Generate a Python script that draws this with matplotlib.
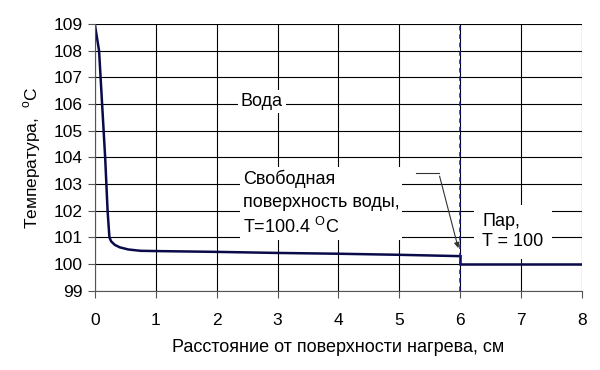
import numpy as np
import matplotlib.pyplot as plt

plt.rcParams['font.family'] = ['Liberation Sans', 'DejaVu Sans']

# water temperature profile (distance in cm, temperature in C)
x_water = [0, 0.07, 0.12, 0.17, 0.21, 0.24, 0.27, 0.33, 0.41, 0.55, 0.75, 1.0, 2.0, 3.0, 4.0, 5.0, 6.0]
t_water = [109, 108, 106, 104, 102, 101, 100.85, 100.72, 100.63, 100.55, 100.5, 100.49, 100.46, 100.42, 100.39, 100.35, 100.3]
# steam
x_steam = [6.0, 6.0, 8.0]
t_steam = [100.3, 100.0, 100.0]
surface_x = 6.0

xticks = list(range(0, 9))
yticks = list(range(99, 110))

fig = plt.figure(figsize=(6, 3.7), dpi=100)
ax = fig.add_axes([0.158, 0.214, 0.812, 0.721])

ax.plot(x_water, t_water, color='#0a0a4a', lw=1.8)
ax.plot(x_steam, t_steam, color='#0a0a4a', lw=1.8)
ax.axvline(surface_x, color='#1a1a9a', lw=1.1, ls=(0, (3, 2.5)), zorder=3)

ax.set_xlim(0, 8)
ax.set_ylim(99, 109)
ax.set_xticks(xticks)
ax.set_yticks(yticks)
ax.grid(True, color='black', lw=0.8)
ax.set_axisbelow(True)
for s in ['top', 'right']:
    ax.spines[s].set_visible(False)
for s in ['left', 'bottom']:
    ax.spines[s].set_color('#555555')
ax.tick_params(direction='out', length=5, labelsize=12.5, color='#555555')
ax.tick_params(axis='x', pad=11)

ax.set_xlabel('Расстояние от поверхности нагрева, см', fontsize=13, labelpad=8)
ax.set_ylabel('Температура,  $^{\\mathregular{o}}$C', fontsize=12.5, labelpad=8)

box = dict(facecolor='white', edgecolor='none', pad=2)
ax.text(2.4, 106.1, 'Вода', fontsize=13, va='center', bbox=box)
ax.text(2.43, 102.27, 'Свободная\nповерхность воды,\nT=100.4 $^{\\mathregular{O}}$C', fontsize=13,
        va='center', linespacing=1.4, bbox=box)
ax.text(6.36, 101.22, 'Пар,\nT = 100', fontsize=13, va='center', linespacing=1.25,
        bbox=dict(facecolor='white', edgecolor='none', pad=6))

ax.plot([5.28, 5.65], [103.4, 103.4], color='#333333', lw=0.8)
ax.annotate('', xy=(5.98, 100.5), xytext=(5.65, 103.4),
            arrowprops=dict(arrowstyle='-|>', color='#333333', lw=0.8, mutation_scale=8))

fig.savefig('out.png')
